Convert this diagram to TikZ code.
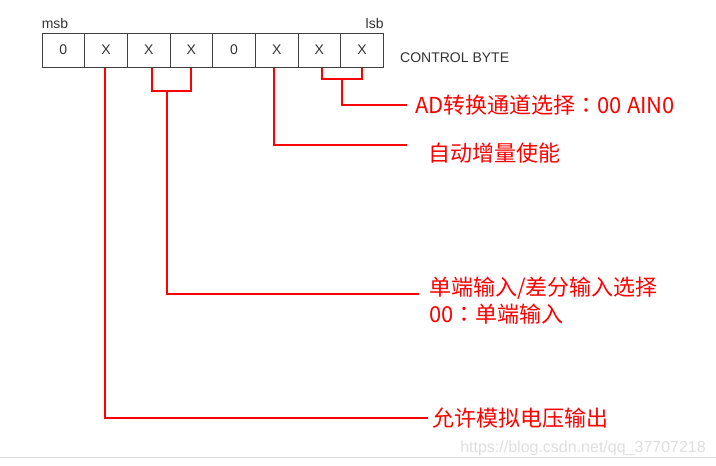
\documentclass[tikz,border=0pt]{standalone}
\usepackage{fontspec}
\setmainfont{Liberation Sans}
\newfontfamily\cjk{Noto Sans CJK SC}
\newfontfamily\cjktc{Noto Sans CJK TC}
\usetikzlibrary{positioning, calc}
\definecolor{boxgray}{HTML}{404040}
\definecolor{markgray}{HTML}{DEDEDE}

\begin{document}
\begin{tikzpicture}[x=1pt, y=-1pt,
    cell/.style={rectangle, draw=boxgray, line width=0.8pt, minimum width=42.67pt, minimum height=34pt, inner sep=0pt, font={\fontsize{14}{16}\selectfont}, text=black!80},
    tag/.style={inner sep=0pt, font={\fontsize{14}{16}\selectfont}, text=black!80},
    note/.style={anchor=west, align=left, inner sep=0pt, text=red, font={\cjk\fontsize{22}{27}\selectfont}},
    wire/.style={draw=red, line width=1.8pt}
  ]
  \useasboundingbox (0,0) rectangle (716,466);

  % Control byte
  \foreach \v [count=\i] in {0,X,X,X,0,X,X,X}
    \node[cell] (b\i) at ({42+42.67*(\i-0.5)},50) {\v};
  \node[tag, anchor=south west] (msb) at ([yshift=4pt]b1.north west) {msb};
  \node[tag, anchor=south east] (lsb) at ([yshift=4pt]b8.north east) {lsb};
  \node[tag, anchor=west] (ctrl) at (400,58) {CONTROL BYTE};

  % Descriptions
  \node[note] (adtxt) at (415,105) {AD转换通道选择{\cjktc ：}00 AIN0};
  \node[note] (autotxt) at (428,153) {自动增量使能};
  \node[note] (modetxt) at (429,301) {单端输入/差分输入选择\\00{\cjktc ：}单端输入};
  \node[note] (dactxt) at (432,418) {允许模拟电压输出};

  % Channel select
  \coordinate (adM) at (342,79);
  \draw[wire] (adM) -| ([xshift=3pt,yshift=-1pt]b7.south);
  \draw[wire] (adM) -| ([yshift=-1pt]b8.south);
  \draw[wire] (adM) |- ([xshift=-8pt]adtxt.west);

  % Auto increment
  \draw[wire] ([xshift=-2.5pt,yshift=-1pt]b6.south) |- ([xshift=-21pt,yshift=8pt]autotxt.west);

  % Input mode
  \coordinate (mdM) at (167,91);
  \draw[wire] (mdM) -| ([xshift=3pt,yshift=-1pt]b3.south);
  \draw[wire] (mdM) -| ([yshift=-1pt]b4.south);
  \draw[wire] (mdM) |- ([xshift=-10pt,yshift=7pt]modetxt.west);

  % Analog output enable
  \draw[wire] ([xshift=-1pt,yshift=-1pt]b2.south) |- ([xshift=-4pt]dactxt.west);

  % Watermark
  \node[anchor=east, inner sep=0pt, text=markgray, font={\fontsize{16}{18}\selectfont}] (mark) at (706,448) {https://blog.csdn.net/qq\_37707218};
  \draw[markgray, line width=0.8pt] (0,457) -- (716,457);
\end{tikzpicture}
\end{document}
